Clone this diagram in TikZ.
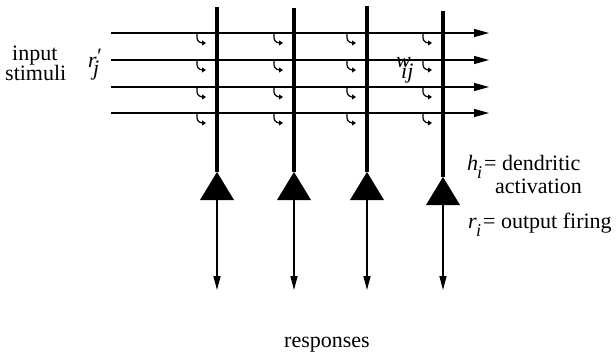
\documentclass[tikz,border=0pt]{standalone}
\usepackage{fontspec}
\setmainfont{Liberation Serif}
\usetikzlibrary{arrows.meta}
\begin{document}
\begin{tikzpicture}[x=1pt,y=-1pt,
  axon/.style={line width=1.2pt,-{Triangle[length=15pt,width=8pt]}},
  dend/.style={line width=3.8pt},
  outax/.style={line width=1.4pt,-{Triangle[length=14pt,width=7pt]}},
  syn/.style={line width=1.2pt,-{Triangle[length=4pt,width=5pt]}},
  lbl/.style={inner sep=0pt,anchor=base west,font=\fontsize{22}{26}\selectfont},
  soma/.style={fill=black}]
\useasboundingbox (0,0) rectangle (616,353);
% input axons
\foreach \k/\y in {1/33,2/60,3/87,4/113}{
  \coordinate (in\k) at (111,\y);
  \coordinate (out\k) at (489,\y);
  \draw[axon] (in\k) -- (out\k);
}
% neurons
\foreach \i/\x/\t/\a in {1/217/7/172,2/294/8/172,3/367/6/172,4/443/11/177}{
  \coordinate (top\i) at (\x,\t);
  \coordinate (apex\i) at (\x,\a);
  \coordinate (base\i) at (\x,\a+28);
  \coordinate (resp\i) at (\x,290);
  \draw[dend] (top\i) -- (apex\i);
  \fill[soma] (apex\i) -- ([xshift=17pt]base\i) -- ([xshift=-17pt]base\i) -- cycle;
  \draw[outax] (base\i) -- (resp\i);
  \foreach \y in {33,60,87,113}{
    \draw[syn] (\x-20,\y+1) -- (\x-20,\y+5) to[out=-90,in=180] (\x-11,\y+10);
  }
}
% labels
\node[lbl] (inp) at (12,61) {input};
\node[lbl] (stim) at (5,81) {stimuli};
\node[lbl] (rj) at (88,68) {\textit{r}\kern-1pt\raisebox{5pt}{\textit{′}}};
\node[lbl] (rjsub) at (93,76) {\textit{j}};
\node[lbl] (wij) at (396,68) {\textit{w}};
\node[lbl] (wijsub) at (401,78) {\textit{ij}};
\node[lbl] (hi) at (467,170) {\textit{h}};
\node[lbl,font=\fontsize{18}{18}\selectfont\itshape] (hisub) at (477,178) {i};
\node[lbl] (hdef) at (484,170) {= dendritic};
\node[lbl] (act) at (495,193) {activation};
\node[lbl] (ri) at (468,228) {\textit{r}};
\node[lbl,font=\fontsize{18}{18}\selectfont\itshape] (risub) at (476,236) {i};
\node[lbl] (rdef) at (483,228) {= output firing};
\node[lbl,anchor=base] (resp) at (327,347) {responses};
\end{tikzpicture}
\end{document}
